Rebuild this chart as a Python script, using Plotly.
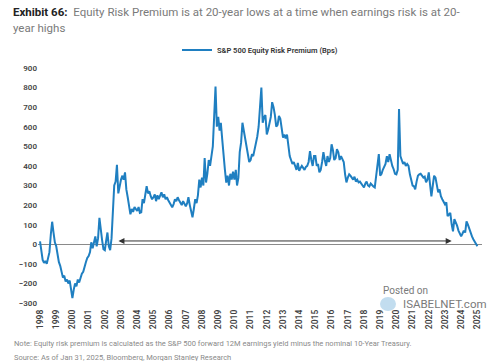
import pandas as pd
import plotly.graph_objects as go

# Monthly S&P 500 Equity Risk Premium (bps), Jan 1998 - Jan 2025
erp_1998 = [15, -40, -80, -95, -85, -100, -70, -40, 50, 115, 60, 10]
erp_1999 = [-10, -60, -90, -110, -140, -170, -160, -190, -180, -200, -185, -230]
erp_2000 = [-275, -230, -200, -215, -180, -195, -170, -150, -140, -110, -90, -70]
erp_2001 = [-60, -40, 10, -20, 20, 40, -10, 30, 135, 70, 20, -25]
erp_2002 = [-30, 20, 60, -10, -30, 30, 200, 300, 320, 405, 260, 300]
erp_2003 = [330, 350, 330, 367, 280, 240, 194, 153, 180, 165, 190, 178]
erp_2004 = [170, 190, 160, 163, 230, 210, 250, 296, 260, 270, 245, 230]
erp_2005 = [240, 255, 220, 250, 230, 250, 265, 240, 255, 230, 240, 225]
erp_2006 = [210, 195, 189, 205, 230, 220, 240, 225, 214, 200, 220, 205]
erp_2007 = [194, 210, 240, 200, 170, 138, 180, 230, 210, 250, 330, 290]
erp_2008 = [340, 300, 440, 315, 360, 430, 400, 460, 500, 650, 805, 600]
erp_2009 = [650, 580, 620, 535, 430, 380, 315, 350, 300, 360, 330, 370]
erp_2010 = [330, 380, 300, 340, 470, 520, 620, 580, 550, 500, 450, 420]
erp_2011 = [430, 460, 450, 480, 510, 550, 600, 700, 800, 620, 650, 660]
erp_2012 = [560, 585, 620, 650, 725, 700, 660, 600, 610, 655, 640, 600]
erp_2013 = [545, 560, 540, 560, 500, 450, 430, 410, 420, 400, 380, 415]
erp_2014 = [375, 390, 400, 390, 380, 395, 400, 420, 475, 430, 400, 450]
erp_2015 = [450, 400, 410, 367, 380, 420, 470, 430, 400, 450, 420, 440]
erp_2016 = [510, 480, 430, 440, 485, 470, 430, 450, 430, 420, 357, 316]
erp_2017 = [340, 357, 350, 340, 330, 345, 320, 330, 316, 320, 310, 300]
erp_2018 = [290, 310, 320, 300, 295, 310, 300, 295, 290, 350, 400, 460]
erp_2019 = [350, 360, 380, 400, 410, 450, 420, 460, 420, 400, 383, 360]
erp_2020 = [357, 380, 690, 450, 430, 410, 420, 400, 410, 400, 357, 330]
erp_2021 = [300, 296, 280, 320, 350, 357, 360, 350, 340, 345, 316, 330]
erp_2022 = [367, 300, 245, 300, 350, 340, 300, 265, 280, 245, 230, 215]
erp_2023 = [204, 214, 143, 153, 160, 102, 66, 128, 112, 95, 70, 51]
erp_2024 = [41, 55, 70, 60, 117, 100, 77, 60, 40, 26, 15, 5]
erp_2025 = [-10]

erp_values = (erp_1998 + erp_1999 + erp_2000 + erp_2001 + erp_2002 + erp_2003 + erp_2004
              + erp_2005 + erp_2006 + erp_2007 + erp_2008 + erp_2009 + erp_2010 + erp_2011
              + erp_2012 + erp_2013 + erp_2014 + erp_2015 + erp_2016 + erp_2017 + erp_2018
              + erp_2019 + erp_2020 + erp_2021 + erp_2022 + erp_2023 + erp_2024 + erp_2025)
dates = pd.date_range("1998-01-01", periods=len(erp_values), freq="MS")

year_labels = [str(y) for y in range(1998, 2026)]
year_ticks = [f"{y}-01-01" for y in range(1998, 2026)]
y_ticks = [-300, -200, -100, 0, 100, 200, 300, 400, 500, 600, 700, 800, 900]

fig = go.Figure()
fig.add_trace(go.Scatter(
    x=dates, y=erp_values, mode="lines",
    name="S&P 500 Equity Risk Premium (Bps)",
    line=dict(color="#1f7fc1", width=2),
))

PLOT_TOP, PLOT_BOT = 64, 307
H = PLOT_BOT - PLOT_TOP


def py(px):
    return (PLOT_BOT - px) / H


def pxp(x):
    return (x - 38) / 444


fig.update_layout(
    width=500, height=361,
    margin=dict(l=38, r=18, t=PLOT_TOP, b=361 - PLOT_BOT, autoexpand=False),
    paper_bgcolor="white", plot_bgcolor="white",
    font=dict(family="Roboto, Arial, sans-serif", color="#444"),
    showlegend=True,
    legend=dict(orientation="h", x=0.5, xanchor="center", y=py(50), yanchor="middle",
                font=dict(size=7.5, color="#333", weight=600), bgcolor="rgba(0,0,0,0)"),
    xaxis=dict(
        type="date",
        range=["1997-11-16", "2025-04-15"],
        tickmode="array", tickvals=year_ticks, ticktext=year_labels,
        tickangle=-90, tickfont=dict(size=8.5, color="#444", weight=600),
        showgrid=False, zeroline=False, showline=False, ticks="",
    ),
    yaxis=dict(
        range=[-320, 920], tickmode="array", tickvals=y_ticks,
        tickfont=dict(size=8, color="#444", weight=600),
        showgrid=False, zeroline=True, zerolinecolor="#8a8a8a", zerolinewidth=1,
        showline=False, ticks="",
    ),
)

# title (two lines)
fig.add_annotation(
    text="<b>Exhibit 66:</b>  <span style='color:#7a7a7a'>Equity Risk Premium is at 20-year lows at a time when earnings risk is at 20-</span>",
    xref="paper", yref="paper", x=pxp(11), y=py(12), xanchor="left", yanchor="middle",
    showarrow=False, font=dict(size=11.5, color="#222"))
fig.add_annotation(
    text="year highs", xref="paper", yref="paper", x=pxp(11), y=py(28),
    xanchor="left", yanchor="middle", showarrow=False,
    font=dict(size=11.5, color="#7a7a7a"))

# double-headed arrow above zero
fig.add_annotation(
    x="2023-06-01", y=17, ax="2002-10-01", ay=17,
    xref="x", yref="y", axref="x", ayref="y",
    text="", showarrow=True, arrowhead=2, startarrowhead=2, arrowside="end+start",
    arrowsize=1.2, startarrowsize=1.2, arrowwidth=1, arrowcolor="#333",
)

# watermark
fig.add_annotation(text="Posted on", xref="paper", yref="paper",
                   x=pxp(381), y=py(290), xanchor="left", yanchor="middle",
                   showarrow=False, font=dict(size=10, color="#7a7a7a"))
fig.add_annotation(text="ISABELNET.com", xref="paper", yref="paper",
                   x=pxp(401), y=py(304), xanchor="left", yanchor="middle",
                   showarrow=False, font=dict(size=11.5, color="#7a7a7a"))
fig.add_shape(type="circle", xref="paper", yref="paper",
              x0=pxp(380), x1=pxp(396), y0=py(311), y1=py(297),
              fillcolor="rgba(120,180,220,0.45)", line=dict(width=0))

# footer
fig.add_annotation(text="Note: Equity risk premium is calculated as the S&P 500 forward 12M earnings yield minus the nominal 10-Year Treasury.",
                   xref="paper", yref="paper", x=pxp(12), y=py(343),
                   xanchor="left", yanchor="middle", showarrow=False,
                   font=dict(size=7.5, color="#8a8a8a"))
fig.add_annotation(text="Source: As of Jan 31, 2025, Bloomberg, Morgan Stanley Research",
                   xref="paper", yref="paper", x=pxp(12), y=py(357),
                   xanchor="left", yanchor="middle", showarrow=False,
                   font=dict(size=7.5, color="#8a8a8a"))

fig.write_html("out.html", config={"displayModeBar": False},
               post_script="document.body.style.margin='0';document.body.style.padding='0';")
